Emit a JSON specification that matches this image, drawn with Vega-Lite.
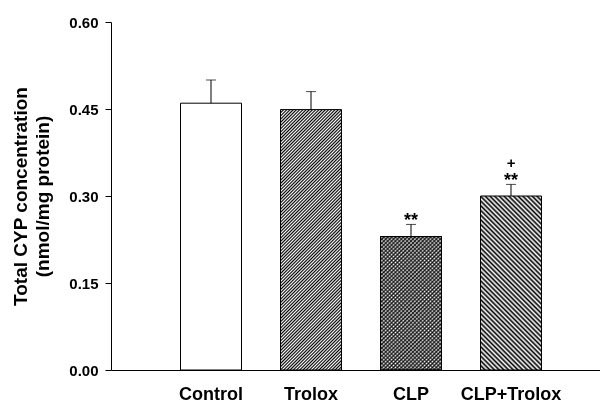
{
"$schema": "https://vega.github.io/schema/vega-lite/v6.json",
"width": 489, "height": 348,
"autosize": "none",
"padding": {"left": 111, "top": 22, "right": 0, "bottom": 33},
"background": "white",
"config": {"view": {"stroke": null}, "font": "Liberation Sans"},
"data": {"values": [
 {"group": "Control", "value": 0.46, "upper": 0.50, "star": "", "plus": ""},
 {"group": "Trolox", "value": 0.449, "upper": 0.48, "star": "", "plus": ""},
 {"group": "CLP", "value": 0.23, "upper": 0.251, "star": "**", "plus": ""},
 {"group": "CLP+Trolox", "value": 0.30, "upper": 0.32, "star": "**", "plus": "+"}
]},
"encoding": {
 "x": {"field": "group", "type": "nominal", "sort": ["Control", "Trolox", "CLP", "CLP+Trolox"],
  "scale": {"domain": ["Control", "Trolox", "CLP", "CLP+Trolox"], "paddingInner": 0.39, "paddingOuter": 0.64, "align": 0.543},
  "axis": {"title": null, "labelAngle": 0, "ticks": false, "domainColor": "black", "labelFontWeight": "bold", "labelFontSize": 18, "labelColor": "black", "labelPadding": 15}},
 "y": {"field": "value", "type": "quantitative", "scale": {"domain": [0, 0.6], "nice": false},
  "axis": {"values": [0, 0.15, 0.3, 0.45, 0.6], "format": ".2f", "grid": false, "domainColor": "black", "tickColor": "black", "tickSize": 6, "labelPadding": 7, "labelFontSize": 15, "labelFontWeight": "bold", "labelColor": "black", "title": ["Total CYP concentration", "(nmol/mg protein)"], "titleFontSize": 19, "titleFontWeight": "bold", "titleColor": "black", "titleLineHeight": 22, "titlePadding": 16}}
},
"layer": [
 {"transform": [{"filter": "datum.group === 'Control'"}],
  "mark": {"type": "bar", "fill": "white", "stroke": "black", "strokeWidth": 1}},
 {"transform": [{"filter": "datum.group === 'Trolox'"}],
  "mark": {"type": "bar", "stroke": "black", "strokeWidth": 1,
   "fill": {"gradient": "linear", "x1": 0, "y1": 0, "x2": 0.274, "y2": 1.17, "stops": [
{"offset":0,"color":"#000"},{"offset":0.005,"color":"#fff"},{"offset":0.01,"color":"#000"},{"offset":0.015,"color":"#fff"},{"offset":0.02,"color":"#000"},{"offset":0.025,"color":"#fff"},{"offset":0.03,"color":"#000"},{"offset":0.035,"color":"#fff"},{"offset":0.04,"color":"#000"},{"offset":0.045,"color":"#fff"},{"offset":0.05,"color":"#000"},{"offset":0.055,"color":"#fff"},{"offset":0.06,"color":"#000"},{"offset":0.065,"color":"#fff"},{"offset":0.07,"color":"#000"},{"offset":0.075,"color":"#fff"},{"offset":0.08,"color":"#000"},{"offset":0.085,"color":"#fff"},{"offset":0.09,"color":"#000"},{"offset":0.095,"color":"#fff"},
{"offset":0.1,"color":"#000"},{"offset":0.105,"color":"#fff"},{"offset":0.11,"color":"#000"},{"offset":0.115,"color":"#fff"},{"offset":0.12,"color":"#000"},{"offset":0.125,"color":"#fff"},{"offset":0.13,"color":"#000"},{"offset":0.135,"color":"#fff"},{"offset":0.14,"color":"#000"},{"offset":0.145,"color":"#fff"},{"offset":0.15,"color":"#000"},{"offset":0.155,"color":"#fff"},{"offset":0.16,"color":"#000"},{"offset":0.165,"color":"#fff"},{"offset":0.17,"color":"#000"},{"offset":0.175,"color":"#fff"},{"offset":0.18,"color":"#000"},{"offset":0.185,"color":"#fff"},{"offset":0.19,"color":"#000"},{"offset":0.195,"color":"#fff"},
{"offset":0.2,"color":"#000"},{"offset":0.205,"color":"#fff"},{"offset":0.21,"color":"#000"},{"offset":0.215,"color":"#fff"},{"offset":0.22,"color":"#000"},{"offset":0.225,"color":"#fff"},{"offset":0.23,"color":"#000"},{"offset":0.235,"color":"#fff"},{"offset":0.24,"color":"#000"},{"offset":0.245,"color":"#fff"},{"offset":0.25,"color":"#000"},{"offset":0.255,"color":"#fff"},{"offset":0.26,"color":"#000"},{"offset":0.265,"color":"#fff"},{"offset":0.27,"color":"#000"},{"offset":0.275,"color":"#fff"},{"offset":0.28,"color":"#000"},{"offset":0.285,"color":"#fff"},{"offset":0.29,"color":"#000"},{"offset":0.295,"color":"#fff"},
{"offset":0.3,"color":"#000"},{"offset":0.305,"color":"#fff"},{"offset":0.31,"color":"#000"},{"offset":0.315,"color":"#fff"},{"offset":0.32,"color":"#000"},{"offset":0.325,"color":"#fff"},{"offset":0.33,"color":"#000"},{"offset":0.335,"color":"#fff"},{"offset":0.34,"color":"#000"},{"offset":0.345,"color":"#fff"},{"offset":0.35,"color":"#000"},{"offset":0.355,"color":"#fff"},{"offset":0.36,"color":"#000"},{"offset":0.365,"color":"#fff"},{"offset":0.37,"color":"#000"},{"offset":0.375,"color":"#fff"},{"offset":0.38,"color":"#000"},{"offset":0.385,"color":"#fff"},{"offset":0.39,"color":"#000"},{"offset":0.395,"color":"#fff"},
{"offset":0.4,"color":"#000"},{"offset":0.405,"color":"#fff"},{"offset":0.41,"color":"#000"},{"offset":0.415,"color":"#fff"},{"offset":0.42,"color":"#000"},{"offset":0.425,"color":"#fff"},{"offset":0.43,"color":"#000"},{"offset":0.435,"color":"#fff"},{"offset":0.44,"color":"#000"},{"offset":0.445,"color":"#fff"},{"offset":0.45,"color":"#000"},{"offset":0.455,"color":"#fff"},{"offset":0.46,"color":"#000"},{"offset":0.465,"color":"#fff"},{"offset":0.47,"color":"#000"},{"offset":0.475,"color":"#fff"},{"offset":0.48,"color":"#000"},{"offset":0.485,"color":"#fff"},{"offset":0.49,"color":"#000"},{"offset":0.495,"color":"#fff"},
{"offset":0.5,"color":"#000"},{"offset":0.505,"color":"#fff"},{"offset":0.51,"color":"#000"},{"offset":0.515,"color":"#fff"},{"offset":0.52,"color":"#000"},{"offset":0.525,"color":"#fff"},{"offset":0.53,"color":"#000"},{"offset":0.535,"color":"#fff"},{"offset":0.54,"color":"#000"},{"offset":0.545,"color":"#fff"},{"offset":0.55,"color":"#000"},{"offset":0.555,"color":"#fff"},{"offset":0.56,"color":"#000"},{"offset":0.565,"color":"#fff"},{"offset":0.57,"color":"#000"},{"offset":0.575,"color":"#fff"},{"offset":0.58,"color":"#000"},{"offset":0.585,"color":"#fff"},{"offset":0.59,"color":"#000"},{"offset":0.595,"color":"#fff"},
{"offset":0.6,"color":"#000"},{"offset":0.605,"color":"#fff"},{"offset":0.61,"color":"#000"},{"offset":0.615,"color":"#fff"},{"offset":0.62,"color":"#000"},{"offset":0.625,"color":"#fff"},{"offset":0.63,"color":"#000"},{"offset":0.635,"color":"#fff"},{"offset":0.64,"color":"#000"},{"offset":0.645,"color":"#fff"},{"offset":0.65,"color":"#000"},{"offset":0.655,"color":"#fff"},{"offset":0.66,"color":"#000"},{"offset":0.665,"color":"#fff"},{"offset":0.67,"color":"#000"},{"offset":0.675,"color":"#fff"},{"offset":0.68,"color":"#000"},{"offset":0.685,"color":"#fff"},{"offset":0.69,"color":"#000"},{"offset":0.695,"color":"#fff"},
{"offset":0.7,"color":"#000"},{"offset":0.705,"color":"#fff"},{"offset":0.71,"color":"#000"},{"offset":0.715,"color":"#fff"},{"offset":0.72,"color":"#000"},{"offset":0.725,"color":"#fff"},{"offset":0.73,"color":"#000"},{"offset":0.735,"color":"#fff"},{"offset":0.74,"color":"#000"},{"offset":0.745,"color":"#fff"},{"offset":0.75,"color":"#000"},{"offset":0.755,"color":"#fff"},{"offset":0.76,"color":"#000"},{"offset":0.765,"color":"#fff"},{"offset":0.77,"color":"#000"},{"offset":0.775,"color":"#fff"},{"offset":0.78,"color":"#000"},{"offset":0.785,"color":"#fff"},{"offset":0.79,"color":"#000"},{"offset":0.795,"color":"#fff"},
{"offset":0.8,"color":"#000"},{"offset":0.805,"color":"#fff"},{"offset":0.81,"color":"#000"},{"offset":0.815,"color":"#fff"},{"offset":0.82,"color":"#000"},{"offset":0.825,"color":"#fff"},{"offset":0.83,"color":"#000"},{"offset":0.835,"color":"#fff"},{"offset":0.84,"color":"#000"},{"offset":0.845,"color":"#fff"},{"offset":0.85,"color":"#000"},{"offset":0.855,"color":"#fff"},{"offset":0.86,"color":"#000"},{"offset":0.865,"color":"#fff"},{"offset":0.87,"color":"#000"},{"offset":0.875,"color":"#fff"},{"offset":0.88,"color":"#000"},{"offset":0.885,"color":"#fff"},{"offset":0.89,"color":"#000"},{"offset":0.895,"color":"#fff"},
{"offset":0.9,"color":"#000"},{"offset":0.905,"color":"#fff"},{"offset":0.91,"color":"#000"},{"offset":0.915,"color":"#fff"},{"offset":0.92,"color":"#000"},{"offset":0.925,"color":"#fff"},{"offset":0.93,"color":"#000"},{"offset":0.935,"color":"#fff"},{"offset":0.94,"color":"#000"},{"offset":0.945,"color":"#fff"},{"offset":0.95,"color":"#000"},{"offset":0.955,"color":"#fff"},{"offset":0.96,"color":"#000"},{"offset":0.965,"color":"#fff"},{"offset":0.97,"color":"#000"},{"offset":0.975,"color":"#fff"},{"offset":0.98,"color":"#000"},{"offset":0.985,"color":"#fff"},{"offset":0.99,"color":"#000"},{"offset":0.995,"color":"#fff"},{"offset":1,"color":"#000"}
   ]}}},
 {"transform": [{"filter": "datum.group === 'CLP'"}],
  "mark": {"type": "bar", "stroke": "black", "strokeWidth": 1,
   "fill": {"gradient": "linear", "x1": 0, "y1": 0, "x2": 0.551, "y2": 1.205, "stops": [
{"offset":0,"color":"#222"},{"offset":0.01,"color":"#fff"},{"offset":0.02,"color":"#222"},{"offset":0.03,"color":"#fff"},{"offset":0.04,"color":"#222"},{"offset":0.05,"color":"#fff"},{"offset":0.06,"color":"#222"},{"offset":0.07,"color":"#fff"},{"offset":0.08,"color":"#222"},{"offset":0.09,"color":"#fff"},
{"offset":0.1,"color":"#222"},{"offset":0.11,"color":"#fff"},{"offset":0.12,"color":"#222"},{"offset":0.13,"color":"#fff"},{"offset":0.14,"color":"#222"},{"offset":0.15,"color":"#fff"},{"offset":0.16,"color":"#222"},{"offset":0.17,"color":"#fff"},{"offset":0.18,"color":"#222"},{"offset":0.19,"color":"#fff"},
{"offset":0.2,"color":"#222"},{"offset":0.21,"color":"#fff"},{"offset":0.22,"color":"#222"},{"offset":0.23,"color":"#fff"},{"offset":0.24,"color":"#222"},{"offset":0.25,"color":"#fff"},{"offset":0.26,"color":"#222"},{"offset":0.27,"color":"#fff"},{"offset":0.28,"color":"#222"},{"offset":0.29,"color":"#fff"},
{"offset":0.3,"color":"#222"},{"offset":0.31,"color":"#fff"},{"offset":0.32,"color":"#222"},{"offset":0.33,"color":"#fff"},{"offset":0.34,"color":"#222"},{"offset":0.35,"color":"#fff"},{"offset":0.36,"color":"#222"},{"offset":0.37,"color":"#fff"},{"offset":0.38,"color":"#222"},{"offset":0.39,"color":"#fff"},
{"offset":0.4,"color":"#222"},{"offset":0.41,"color":"#fff"},{"offset":0.42,"color":"#222"},{"offset":0.43,"color":"#fff"},{"offset":0.44,"color":"#222"},{"offset":0.45,"color":"#fff"},{"offset":0.46,"color":"#222"},{"offset":0.47,"color":"#fff"},{"offset":0.48,"color":"#222"},{"offset":0.49,"color":"#fff"},
{"offset":0.5,"color":"#222"},{"offset":0.51,"color":"#fff"},{"offset":0.52,"color":"#222"},{"offset":0.53,"color":"#fff"},{"offset":0.54,"color":"#222"},{"offset":0.55,"color":"#fff"},{"offset":0.56,"color":"#222"},{"offset":0.57,"color":"#fff"},{"offset":0.58,"color":"#222"},{"offset":0.59,"color":"#fff"},
{"offset":0.6,"color":"#222"},{"offset":0.61,"color":"#fff"},{"offset":0.62,"color":"#222"},{"offset":0.63,"color":"#fff"},{"offset":0.64,"color":"#222"},{"offset":0.65,"color":"#fff"},{"offset":0.66,"color":"#222"},{"offset":0.67,"color":"#fff"},{"offset":0.68,"color":"#222"},{"offset":0.69,"color":"#fff"},
{"offset":0.7,"color":"#222"},{"offset":0.71,"color":"#fff"},{"offset":0.72,"color":"#222"},{"offset":0.73,"color":"#fff"},{"offset":0.74,"color":"#222"},{"offset":0.75,"color":"#fff"},{"offset":0.76,"color":"#222"},{"offset":0.77,"color":"#fff"},{"offset":0.78,"color":"#222"},{"offset":0.79,"color":"#fff"},
{"offset":0.8,"color":"#222"},{"offset":0.81,"color":"#fff"},{"offset":0.82,"color":"#222"},{"offset":0.83,"color":"#fff"},{"offset":0.84,"color":"#222"},{"offset":0.85,"color":"#fff"},{"offset":0.86,"color":"#222"},{"offset":0.87,"color":"#fff"},{"offset":0.88,"color":"#222"},{"offset":0.89,"color":"#fff"},
{"offset":0.9,"color":"#222"},{"offset":0.91,"color":"#fff"},{"offset":0.92,"color":"#222"},{"offset":0.93,"color":"#fff"},{"offset":0.94,"color":"#222"},{"offset":0.95,"color":"#fff"},{"offset":0.96,"color":"#222"},{"offset":0.97,"color":"#fff"},{"offset":0.98,"color":"#222"},{"offset":0.99,"color":"#fff"},{"offset":1,"color":"#222"}
   ]}}},
 {"transform": [{"filter": "datum.group === 'CLP'"}],
  "mark": {"type": "bar", "stroke": "black", "strokeWidth": 1, "blend": "multiply",
   "fill": {"gradient": "linear", "x1": 1, "y1": 0, "x2": 0.449, "y2": 1.205, "stops": [
{"offset":0,"color":"#555"},{"offset":0.01,"color":"#fff"},{"offset":0.02,"color":"#555"},{"offset":0.03,"color":"#fff"},{"offset":0.04,"color":"#555"},{"offset":0.05,"color":"#fff"},{"offset":0.06,"color":"#555"},{"offset":0.07,"color":"#fff"},{"offset":0.08,"color":"#555"},{"offset":0.09,"color":"#fff"},
{"offset":0.1,"color":"#555"},{"offset":0.11,"color":"#fff"},{"offset":0.12,"color":"#555"},{"offset":0.13,"color":"#fff"},{"offset":0.14,"color":"#555"},{"offset":0.15,"color":"#fff"},{"offset":0.16,"color":"#555"},{"offset":0.17,"color":"#fff"},{"offset":0.18,"color":"#555"},{"offset":0.19,"color":"#fff"},
{"offset":0.2,"color":"#555"},{"offset":0.21,"color":"#fff"},{"offset":0.22,"color":"#555"},{"offset":0.23,"color":"#fff"},{"offset":0.24,"color":"#555"},{"offset":0.25,"color":"#fff"},{"offset":0.26,"color":"#555"},{"offset":0.27,"color":"#fff"},{"offset":0.28,"color":"#555"},{"offset":0.29,"color":"#fff"},
{"offset":0.3,"color":"#555"},{"offset":0.31,"color":"#fff"},{"offset":0.32,"color":"#555"},{"offset":0.33,"color":"#fff"},{"offset":0.34,"color":"#555"},{"offset":0.35,"color":"#fff"},{"offset":0.36,"color":"#555"},{"offset":0.37,"color":"#fff"},{"offset":0.38,"color":"#555"},{"offset":0.39,"color":"#fff"},
{"offset":0.4,"color":"#555"},{"offset":0.41,"color":"#fff"},{"offset":0.42,"color":"#555"},{"offset":0.43,"color":"#fff"},{"offset":0.44,"color":"#555"},{"offset":0.45,"color":"#fff"},{"offset":0.46,"color":"#555"},{"offset":0.47,"color":"#fff"},{"offset":0.48,"color":"#555"},{"offset":0.49,"color":"#fff"},
{"offset":0.5,"color":"#555"},{"offset":0.51,"color":"#fff"},{"offset":0.52,"color":"#555"},{"offset":0.53,"color":"#fff"},{"offset":0.54,"color":"#555"},{"offset":0.55,"color":"#fff"},{"offset":0.56,"color":"#555"},{"offset":0.57,"color":"#fff"},{"offset":0.58,"color":"#555"},{"offset":0.59,"color":"#fff"},
{"offset":0.6,"color":"#555"},{"offset":0.61,"color":"#fff"},{"offset":0.62,"color":"#555"},{"offset":0.63,"color":"#fff"},{"offset":0.64,"color":"#555"},{"offset":0.65,"color":"#fff"},{"offset":0.66,"color":"#555"},{"offset":0.67,"color":"#fff"},{"offset":0.68,"color":"#555"},{"offset":0.69,"color":"#fff"},
{"offset":0.7,"color":"#555"},{"offset":0.71,"color":"#fff"},{"offset":0.72,"color":"#555"},{"offset":0.73,"color":"#fff"},{"offset":0.74,"color":"#555"},{"offset":0.75,"color":"#fff"},{"offset":0.76,"color":"#555"},{"offset":0.77,"color":"#fff"},{"offset":0.78,"color":"#555"},{"offset":0.79,"color":"#fff"},
{"offset":0.8,"color":"#555"},{"offset":0.81,"color":"#fff"},{"offset":0.82,"color":"#555"},{"offset":0.83,"color":"#fff"},{"offset":0.84,"color":"#555"},{"offset":0.85,"color":"#fff"},{"offset":0.86,"color":"#555"},{"offset":0.87,"color":"#fff"},{"offset":0.88,"color":"#555"},{"offset":0.89,"color":"#fff"},
{"offset":0.9,"color":"#555"},{"offset":0.91,"color":"#fff"},{"offset":0.92,"color":"#555"},{"offset":0.93,"color":"#fff"},{"offset":0.94,"color":"#555"},{"offset":0.95,"color":"#fff"},{"offset":0.96,"color":"#555"},{"offset":0.97,"color":"#fff"},{"offset":0.98,"color":"#555"},{"offset":0.99,"color":"#fff"},{"offset":1,"color":"#555"}
   ]}}},
 {"transform": [{"filter": "datum.group === 'CLP+Trolox'"}],
  "mark": {"type": "bar", "stroke": "black", "strokeWidth": 1,
   "fill": {"gradient": "linear", "x1": 1, "y1": 0, "x2": 0.578, "y2": 1.203, "stops": [
{"offset":0,"color":"#000"},{"offset":0.01,"color":"#fff"},{"offset":0.02,"color":"#000"},{"offset":0.03,"color":"#fff"},{"offset":0.04,"color":"#000"},{"offset":0.05,"color":"#fff"},{"offset":0.06,"color":"#000"},{"offset":0.07,"color":"#fff"},{"offset":0.08,"color":"#000"},{"offset":0.09,"color":"#fff"},
{"offset":0.1,"color":"#000"},{"offset":0.11,"color":"#fff"},{"offset":0.12,"color":"#000"},{"offset":0.13,"color":"#fff"},{"offset":0.14,"color":"#000"},{"offset":0.15,"color":"#fff"},{"offset":0.16,"color":"#000"},{"offset":0.17,"color":"#fff"},{"offset":0.18,"color":"#000"},{"offset":0.19,"color":"#fff"},
{"offset":0.2,"color":"#000"},{"offset":0.21,"color":"#fff"},{"offset":0.22,"color":"#000"},{"offset":0.23,"color":"#fff"},{"offset":0.24,"color":"#000"},{"offset":0.25,"color":"#fff"},{"offset":0.26,"color":"#000"},{"offset":0.27,"color":"#fff"},{"offset":0.28,"color":"#000"},{"offset":0.29,"color":"#fff"},
{"offset":0.3,"color":"#000"},{"offset":0.31,"color":"#fff"},{"offset":0.32,"color":"#000"},{"offset":0.33,"color":"#fff"},{"offset":0.34,"color":"#000"},{"offset":0.35,"color":"#fff"},{"offset":0.36,"color":"#000"},{"offset":0.37,"color":"#fff"},{"offset":0.38,"color":"#000"},{"offset":0.39,"color":"#fff"},
{"offset":0.4,"color":"#000"},{"offset":0.41,"color":"#fff"},{"offset":0.42,"color":"#000"},{"offset":0.43,"color":"#fff"},{"offset":0.44,"color":"#000"},{"offset":0.45,"color":"#fff"},{"offset":0.46,"color":"#000"},{"offset":0.47,"color":"#fff"},{"offset":0.48,"color":"#000"},{"offset":0.49,"color":"#fff"},
{"offset":0.5,"color":"#000"},{"offset":0.51,"color":"#fff"},{"offset":0.52,"color":"#000"},{"offset":0.53,"color":"#fff"},{"offset":0.54,"color":"#000"},{"offset":0.55,"color":"#fff"},{"offset":0.56,"color":"#000"},{"offset":0.57,"color":"#fff"},{"offset":0.58,"color":"#000"},{"offset":0.59,"color":"#fff"},
{"offset":0.6,"color":"#000"},{"offset":0.61,"color":"#fff"},{"offset":0.62,"color":"#000"},{"offset":0.63,"color":"#fff"},{"offset":0.64,"color":"#000"},{"offset":0.65,"color":"#fff"},{"offset":0.66,"color":"#000"},{"offset":0.67,"color":"#fff"},{"offset":0.68,"color":"#000"},{"offset":0.69,"color":"#fff"},
{"offset":0.7,"color":"#000"},{"offset":0.71,"color":"#fff"},{"offset":0.72,"color":"#000"},{"offset":0.73,"color":"#fff"},{"offset":0.74,"color":"#000"},{"offset":0.75,"color":"#fff"},{"offset":0.76,"color":"#000"},{"offset":0.77,"color":"#fff"},{"offset":0.78,"color":"#000"},{"offset":0.79,"color":"#fff"},
{"offset":0.8,"color":"#000"},{"offset":0.81,"color":"#fff"},{"offset":0.82,"color":"#000"},{"offset":0.83,"color":"#fff"},{"offset":0.84,"color":"#000"},{"offset":0.85,"color":"#fff"},{"offset":0.86,"color":"#000"},{"offset":0.87,"color":"#fff"},{"offset":0.88,"color":"#000"},{"offset":0.89,"color":"#fff"},
{"offset":0.9,"color":"#000"},{"offset":0.91,"color":"#fff"},{"offset":0.92,"color":"#000"},{"offset":0.93,"color":"#fff"},{"offset":0.94,"color":"#000"},{"offset":0.95,"color":"#fff"},{"offset":0.96,"color":"#000"},{"offset":0.97,"color":"#fff"},{"offset":0.98,"color":"#000"},{"offset":0.99,"color":"#fff"},{"offset":1,"color":"#000"}
   ]}}},
 {"mark": {"type": "rule", "color": "black", "strokeWidth": 1},
  "encoding": {"y2": {"field": "upper"}}},
 {"mark": {"type": "tick", "color": "black", "thickness": 1, "size": 10},
  "encoding": {"y": {"field": "upper", "type": "quantitative"}}},
 {"mark": {"type": "text", "fontSize": 18, "fontWeight": "bold", "baseline": "alphabetic", "dy": 2, "color": "black"},
  "encoding": {"y": {"field": "upper", "type": "quantitative"}, "text": {"field": "star"}}},
 {"mark": {"type": "text", "fontSize": 15, "fontWeight": "bold", "baseline": "alphabetic", "dy": -16, "color": "black"},
  "encoding": {"y": {"field": "upper", "type": "quantitative"}, "text": {"field": "plus"}}}
]
}
